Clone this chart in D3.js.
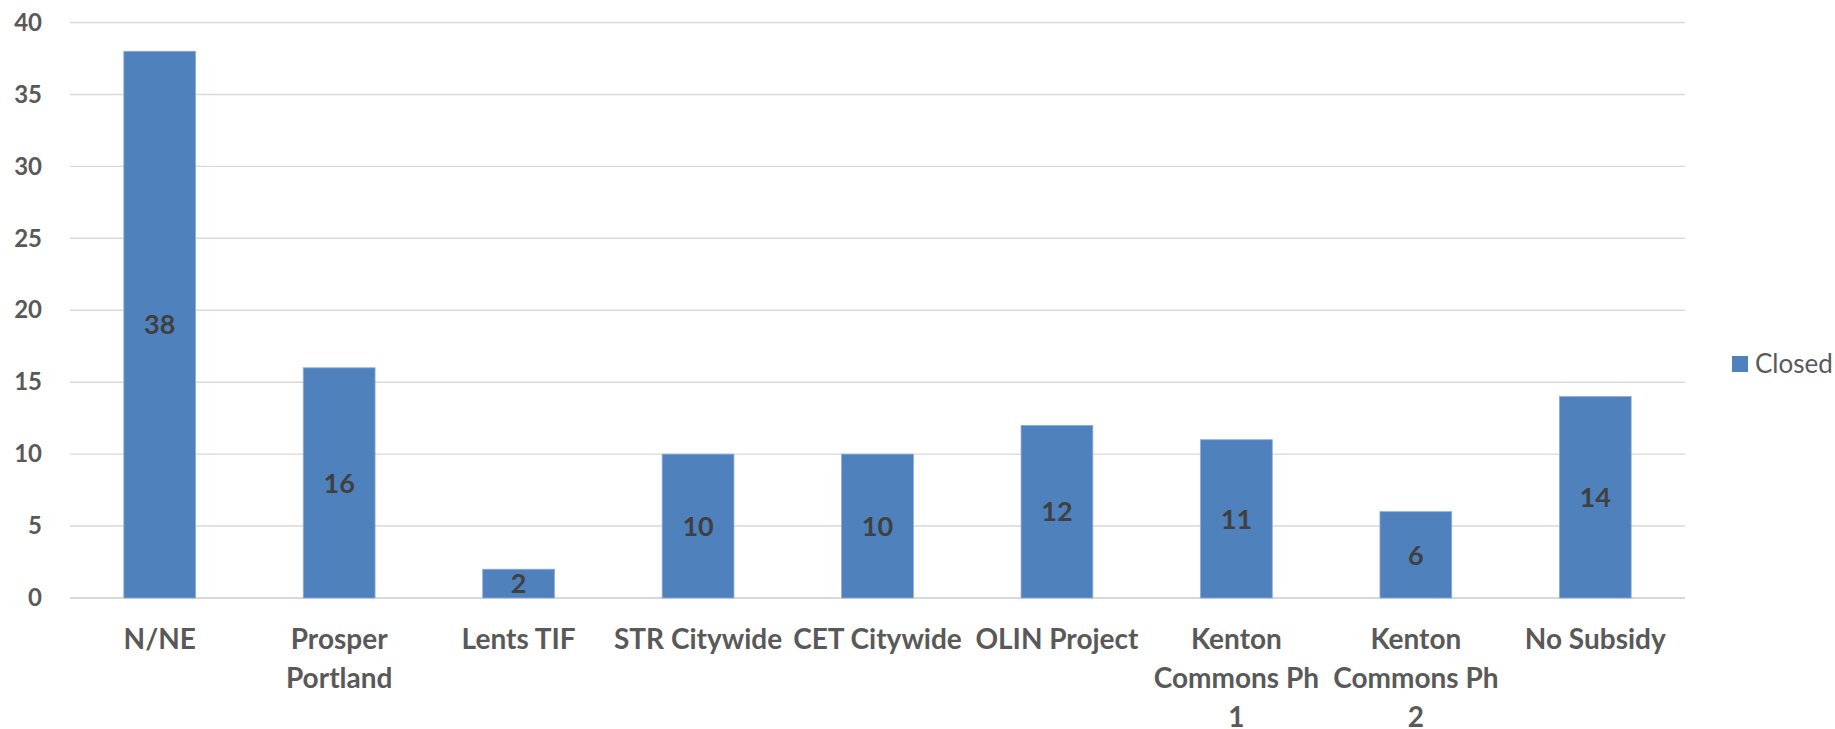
<!DOCTYPE html>
<html>
<head>
<meta charset="utf-8">
<script src="https://cdn.jsdelivr.net/npm/d3@7"></script>
<style>
  body { margin: 0; background: #fff; }
  svg text { font-family: Lato, "Open Sans", sans-serif; }
</style>
</head>
<body>
<svg id="chart"></svg>
<script>
// Chart data
const categories = [
  "N/NE",
  "Prosper Portland",
  "Lents TIF",
  "STR Citywide",
  "CET Citywide",
  "OLIN Project",
  "Kenton Commons Ph 1",
  "Kenton Commons Ph 2",
  "No Subsidy"
];
const closedValues = [38, 16, 2, 10, 10, 12, 11, 6, 14];
const yTicks = [0, 5, 10, 15, 20, 25, 30, 35, 40];
const seriesName = "Closed";

const width = 1835;
const height = 729;
const margin = { left: 70, right: 150, top: 22.5, bottom: 131 };

const svg = d3.select("#chart").attr("width", width).attr("height", height);

// Scales
const x = d3
  .scaleBand()
  .domain(categories)
  .range([margin.left, width - margin.right])
  .paddingInner(0.6)
  .paddingOuter(0.3);

const y = d3
  .scaleLinear()
  .domain([0, 40])
  .range([height - margin.bottom, margin.top]);

// Gridlines
svg
  .append("g")
  .attr("class", "grid")
  .selectAll("line")
  .data(yTicks)
  .enter()
  .append("line")
  .attr("x1", margin.left)
  .attr("x2", width - margin.right)
  .attr("y1", (d) => y(d))
  .attr("y2", (d) => y(d))
  .attr("stroke", "#d9d9d9")
  .attr("stroke-width", (d) => (d === 0 ? 1.8 : 1.4));

// Y axis labels
const yAxis = d3.axisLeft(y).tickValues(yTicks).tickSize(0).tickPadding(28);
svg
  .append("g")
  .attr("transform", `translate(${margin.left},0)`)
  .call(yAxis)
  .call((g) => g.select(".domain").remove())
  .selectAll("text")
  .attr("fill", "#595959")
  .attr("font-family", "Lato")
  .attr("font-weight", "bold")
  .attr("font-size", "24px");

// Bars
svg
  .append("g")
  .selectAll("rect")
  .data(categories)
  .enter()
  .append("rect")
  .attr("x", (d) => x(d))
  .attr("y", (d, i) => y(closedValues[i]))
  .attr("width", x.bandwidth())
  .attr("height", (d, i) => y(0) - y(closedValues[i]))
  .attr("fill", "#4f81bd")
  .attr("stroke", "#8eaadb")
  .attr("stroke-width", 0.8);

// Data labels in the middle of each bar
svg
  .append("g")
  .selectAll("text")
  .data(categories)
  .enter()
  .append("text")
  .attr("x", (d) => x(d) + x.bandwidth() / 2)
  .attr("y", (d, i) => (y(0) + y(closedValues[i])) / 2)
  .attr("dy", "0.36em")
  .attr("text-anchor", "middle")
  .attr("fill", "#404040")
  .attr("font-weight", "bold")
  .attr("font-size", "27px")
  .text((d, i) => closedValues[i]);

// X axis labels, wrapped to the band step
const xAxis = d3.axisBottom(x).tickSize(0).tickPadding(0);
const xg = svg
  .append("g")
  .attr("transform", `translate(0,${y(0)})`)
  .call(xAxis);
xg.select(".domain").remove();
xg.selectAll("text")
  .attr("fill", "#595959")
  .attr("font-family", "Lato")
  .attr("font-weight", "bold")
  .attr("font-size", "28px")
  .attr("y", 51)
  .attr("dy", 0)
  .call(wrap, x.step() + 4);

function wrap(text, maxWidth) {
  text.each(function () {
    const t = d3.select(this);
    const words = t.text().split(/\s+/);
    const yPos = t.attr("y");
    t.text(null);
    let line = [];
    let lineNo = 0;
    let tspan = t.append("tspan").attr("x", 0).attr("y", yPos);
    words.forEach((word) => {
      line.push(word);
      tspan.text(line.join(" "));
      if (tspan.node().getComputedTextLength() > maxWidth && line.length > 1) {
        line.pop();
        tspan.text(line.join(" "));
        line = [word];
        lineNo += 1;
        tspan = t
          .append("tspan")
          .attr("x", 0)
          .attr("y", +yPos + lineNo * 39)
          .text(word);
      }
    });
  });
}

// Legend
const legend = svg.append("g").attr("transform", "translate(1732,356)");
legend
  .append("rect")
  .attr("width", 16)
  .attr("height", 16)
  .attr("fill", "#4f81bd");
legend
  .append("text")
  .attr("x", 23)
  .attr("y", 8)
  .attr("dy", "0.36em")
  .attr("fill", "#595959")
  .attr("font-size", "26px")
  .text(seriesName);
</script>
</body>
</html>
